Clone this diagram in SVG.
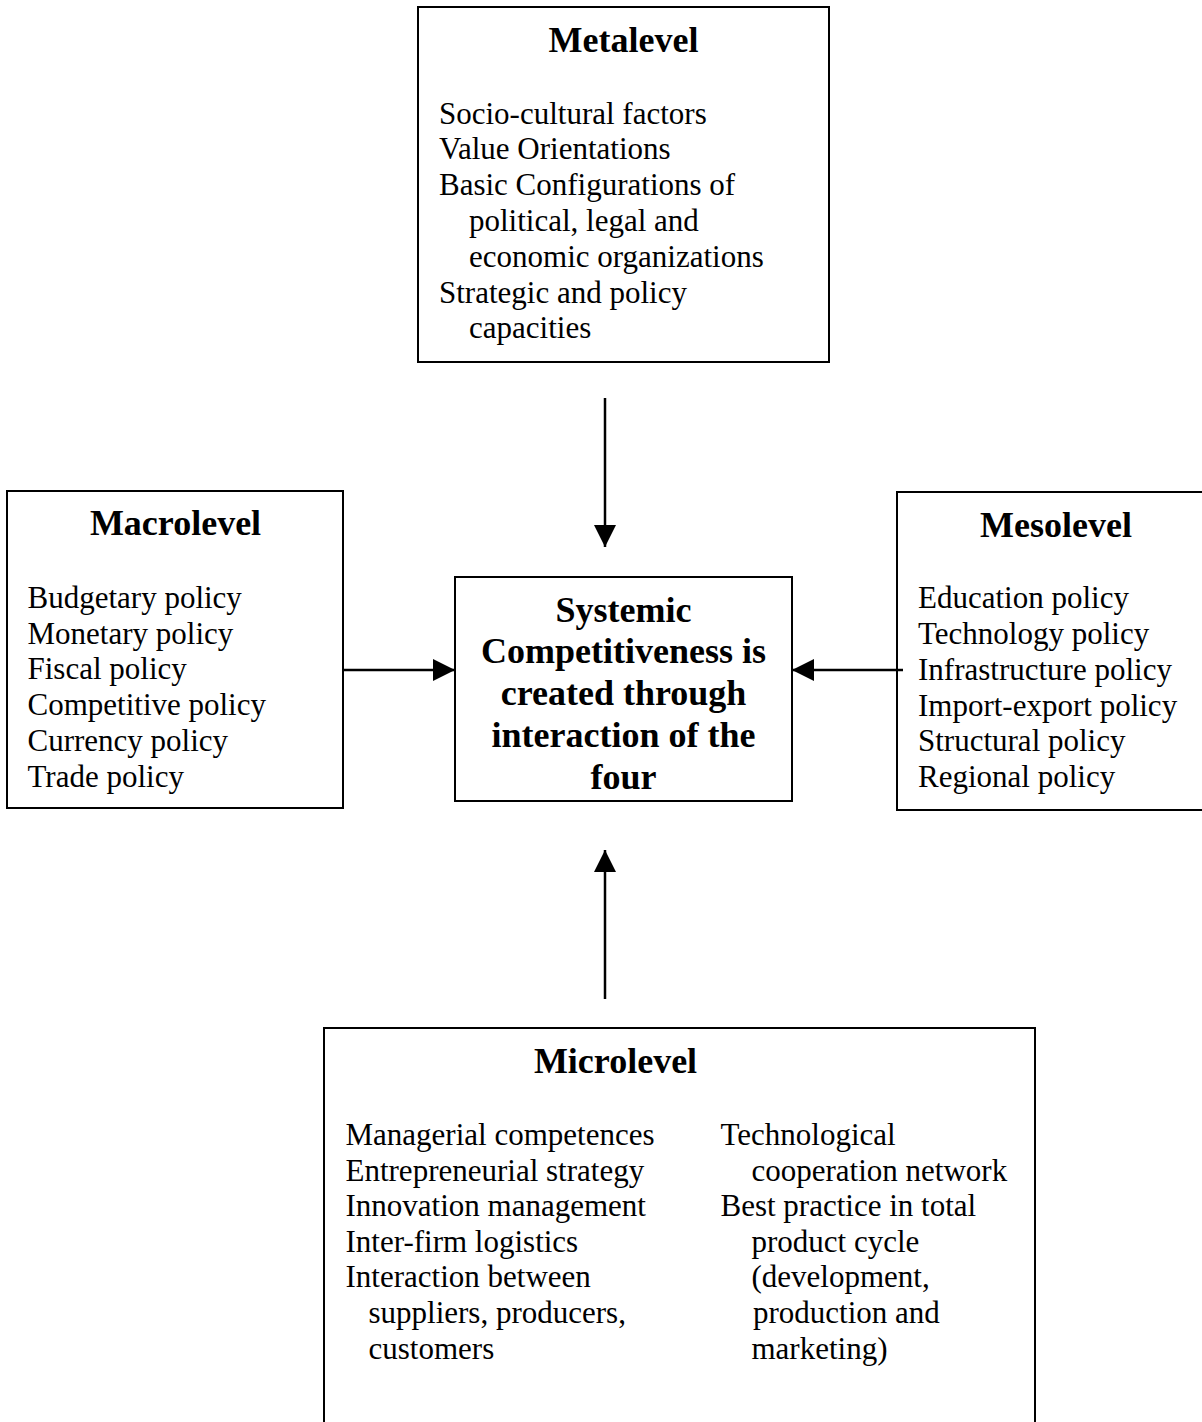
<svg xmlns="http://www.w3.org/2000/svg" width="1202" height="1422" viewBox="0 0 1202 1422">
<style>
.box{fill:#fff;stroke:#000;stroke-width:2}
.t{font-family:"Liberation Serif","Times New Roman",serif;font-size:36px;font-weight:bold;fill:#000}
.b{font-family:"Liberation Serif","Times New Roman",serif;font-size:31px;fill:#000}
.c{stroke:#000;stroke-width:2.5;fill:none}
</style>
<defs>
<marker id="ah" markerUnits="userSpaceOnUse" markerWidth="22" markerHeight="22" refX="22" refY="11" orient="auto">
<path d="M0,0 L22,11 L0,22 z" fill="#000"/>
</marker>
</defs>
<rect width="1202" height="1422" fill="#fff"/>
<g id="metalevel">
<rect class="box" x="418" y="7" width="411" height="355"/>
<text class="t" x="623.5" y="52" text-anchor="middle">Metalevel</text>
<text class="b" x="439" y="123.5">Socio-cultural factors</text>
<text class="b" x="439" y="159.3">Value Orientations</text>
<text class="b" x="439" y="195">Basic Configurations of</text>
<text class="b" x="469" y="230.8">political, legal and</text>
<text class="b" x="469" y="266.6">economic organizations</text>
<text class="b" x="439" y="302.5">Strategic and policy</text>
<text class="b" x="469" y="338.3">capacities</text>
</g>
<g id="macrolevel">
<rect class="box" x="7" y="491" width="336" height="317"/>
<text class="t" x="175.5" y="535" text-anchor="middle">Macrolevel</text>
<text class="b" x="27.5" y="607.7">Budgetary policy</text>
<text class="b" x="27.5" y="643.5">Monetary policy</text>
<text class="b" x="27.5" y="679.3">Fiscal policy</text>
<text class="b" x="27.5" y="715">Competitive policy</text>
<text class="b" x="27.5" y="750.8">Currency policy</text>
<text class="b" x="27.5" y="786.6">Trade policy</text>
</g>
<g id="center">
<rect class="box" x="455" y="577" width="337" height="224"/>
<text class="t" x="623.5" y="621.7" text-anchor="middle">Systemic</text>
<text class="t" x="623.5" y="663.4" text-anchor="middle">Competitiveness is</text>
<text class="t" x="623.5" y="705.1" text-anchor="middle">created through</text>
<text class="t" x="623.5" y="746.8" text-anchor="middle">interaction of the</text>
<text class="t" x="623.5" y="788.5" text-anchor="middle">four</text>
</g>
<g id="mesolevel">
<rect class="box" x="897" y="492" width="330" height="318"/>
<text class="t" x="1056" y="536.7" text-anchor="middle">Mesolevel</text>
<text class="b" x="918" y="608.3">Education policy</text>
<text class="b" x="918" y="644">Technology policy</text>
<text class="b" x="918" y="679.8">Infrastructure policy</text>
<text class="b" x="918" y="715.6">Import-export policy</text>
<text class="b" x="918" y="751.3">Structural policy</text>
<text class="b" x="918" y="787">Regional policy</text>
</g>
<g id="microlevel">
<rect class="box" x="324" y="1028" width="711" height="420"/>
<text class="t" x="615.5" y="1073.3" text-anchor="middle">Microlevel</text>
<text class="b" x="345.5" y="1145">Managerial competences</text>
<text class="b" x="345.5" y="1180.6">Entrepreneurial strategy</text>
<text class="b" x="345.5" y="1216.2">Innovation management</text>
<text class="b" x="345.5" y="1251.8">Inter-firm logistics</text>
<text class="b" x="345.5" y="1287.4">Interaction between</text>
<text class="b" x="368.5" y="1323">suppliers, producers,</text>
<text class="b" x="368.5" y="1358.6">customers</text>
<text class="b" x="720.5" y="1145">Technological</text>
<text class="b" x="751.5" y="1180.6">cooperation network</text>
<text class="b" x="720.5" y="1216.2">Best practice in total</text>
<text class="b" x="751.5" y="1251.8">product cycle</text>
<text class="b" x="751.5" y="1287.4">(development,</text>
<text class="b" x="753" y="1323">production and</text>
<text class="b" x="751.5" y="1358.6">marketing)</text>
</g>
<g id="connectors">
<line class="c" x1="605" y1="398" x2="605" y2="547" marker-end="url(#ah)"/>
<line class="c" x1="605" y1="999" x2="605" y2="850" marker-end="url(#ah)"/>
<line class="c" x1="343" y1="670" x2="455" y2="670" marker-end="url(#ah)"/>
<line class="c" x1="903" y1="670" x2="792" y2="670" marker-end="url(#ah)"/>
</g>
</svg>
